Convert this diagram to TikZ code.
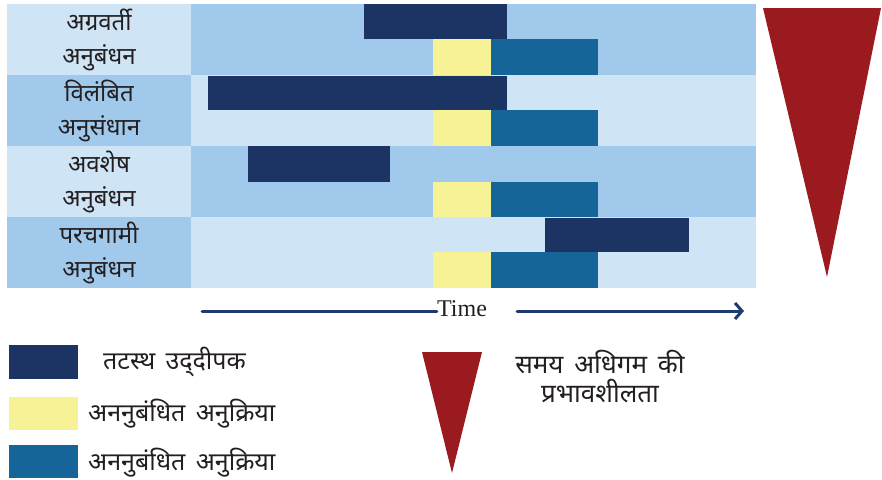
\documentclass[tikz,border=0pt]{standalone}
\usepackage{fontspec}
\newfontfamily\deva[Script=Devanagari,WordSpace=1.6]{Noto Sans}
\newfontfamily\timesf{Liberation Serif}
\usetikzlibrary{arrows.meta}
\definecolor{lightB}{HTML}{CFE5F6}
\definecolor{medB}{HTML}{A0C9EB}
\definecolor{navyB}{HTML}{1C3464}
\definecolor{yelB}{HTML}{F8F296}
\definecolor{tealB}{HTML}{166599}
\definecolor{redT}{HTML}{9A1A1F}
\definecolor{txt}{HTML}{231F20}
\definecolor{arrowC}{HTML}{1F3A6E}
\tikzset{
  cellbox/.style={anchor=north west, inner sep=0pt, outer sep=0pt, draw=none},
  lightcell/.style={cellbox, fill=lightB},
  medcell/.style={cellbox, fill=medB},
  navybar/.style={cellbox, fill=navyB},
  yelbar/.style={cellbox, fill=yelB, minimum width=58pt},
  tealbar/.style={cellbox, fill=tealB, minimum width=107pt},
  lbl/.style={align=center, text=txt, font=\deva\fontsize{24}{34}\selectfont, inner sep=0pt},
  legtxt/.style={anchor=west, text=txt, font=\deva\fontsize{25}{28}\selectfont, inner sep=0pt},
  timeline/.style={arrowC, line width=3pt, line cap=round}
}
\begin{document}
\begin{tikzpicture}[x=1pt,y=-1pt]
\useasboundingbox (0,0) rectangle (882,479);
% label cells
\node[lightcell, minimum width=184pt, minimum height=71pt] (c1) at (7,4) {};
\node[medcell, minimum width=184pt, minimum height=71pt] (c2) at (7,75) {};
\node[lightcell, minimum width=184pt, minimum height=71pt] (c3) at (7,146) {};
\node[medcell, minimum width=184pt, minimum height=71pt] (c4) at (7,217) {};
% right rows
\node[medcell, minimum width=565pt, minimum height=71pt] (r1) at (191,4) {};
\node[lightcell, minimum width=565pt, minimum height=71pt] (r2) at (191,75) {};
\node[medcell, minimum width=565pt, minimum height=71pt] (r3) at (191,146) {};
\node[lightcell, minimum width=565pt, minimum height=71pt] (r4) at (191,217) {};
% navy bars
\node[navybar, minimum width=143pt, minimum height=35pt] (n1) at (364,4) {};
\node[navybar, minimum width=299pt, minimum height=34pt] (n2) at (208,76) {};
\node[navybar, minimum width=142pt, minimum height=36pt] (n3) at (248,146) {};
\node[navybar, minimum width=144pt, minimum height=34pt] (n4) at (545,218) {};
% yellow and teal
\node[yelbar, minimum height=36pt] (y1) at (433,39) {};
\node[tealbar, minimum height=36pt] (t1) at (491,39) {};
\node[yelbar, minimum height=36pt] (y2) at (433,110) {};
\node[tealbar, minimum height=36pt] (t2) at (491,110) {};
\node[yelbar, minimum height=35pt] (y3) at (433,182) {};
\node[tealbar, minimum height=35pt] (t3) at (491,182) {};
\node[yelbar, minimum height=36pt] (y4) at (433,252) {};
\node[tealbar, minimum height=36pt] (t4) at (491,252) {};
% labels
\node[lbl] (l1) at (99,40) {अग्रवर्ती\\अनुबंधन};
\node[lbl] (l2) at (99,111) {विलंबित\\अनुसंधान};
\node[lbl] (l3) at (99,182) {अवशेष\\अनुबंधन};
\node[lbl] (l4) at (99,253) {परचगामी\\अनुबंधन};
% big triangle
\fill[redT] (763,8) -- (881,8) -- (827,277) -- cycle;
% time arrow
\node[text=txt, font=\timesf\fontsize{24}{26}\selectfont, inner sep=0pt] (time) at (462,309) {Time};
\coordinate (tl) at (202,311);
\coordinate (tm) at (517,311);
\coordinate (tr) at (744,311);
\draw[timeline] (tl) -- (time.west |- tl);
\draw[timeline, -{Straight Barb[length=7pt,width=16pt,line width=3pt]}] (tm) -- (tr);
% legend
\node[navybar, minimum width=69pt, minimum height=34pt] (k1) at (9,345) {};
\node[yelbar, minimum width=69pt, minimum height=33pt] (k2) at (9,397) {};
\node[tealbar, minimum width=69pt, minimum height=33pt] (k3) at (9,445) {};
\node[legtxt] (kt1) at (103,362) {तटस्थ उद्‌दीपक};
\node[legtxt] (kt2) at (88,414) {अननुबंधित अनुक्रिया};
\node[legtxt] (kt3) at (88,463) {अननुबंधित अनुक्रिया};
\fill[redT] (422,352) -- (482,352) -- (452,473) -- cycle;
\node[lbl, font=\deva\fontsize{26}{29}\selectfont] (kt4) at (600,377) {समय अधिगम की\\प्रभावशीलता};
\end{tikzpicture}
\end{document}
